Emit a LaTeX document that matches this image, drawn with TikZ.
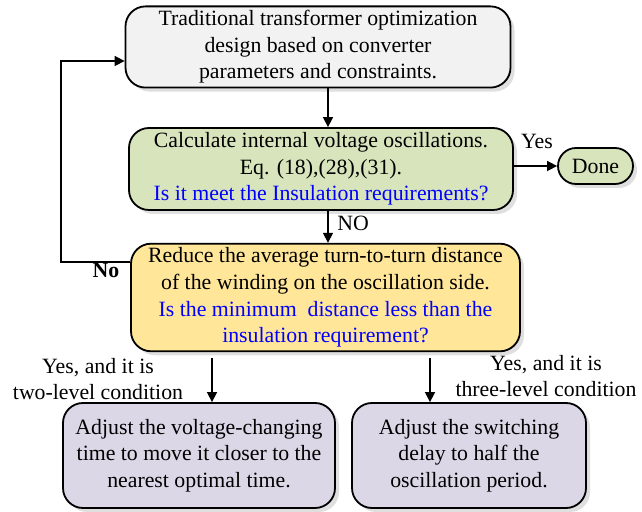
\documentclass[tikz,border=0pt]{standalone}
\usepackage{fontspec}
\setmainfont{Liberation Serif}
\usetikzlibrary{arrows.meta,shadows}

\definecolor{boxgray}{HTML}{F2F2F2}
\definecolor{boxgreen}{HTML}{D8E4BC}
\definecolor{boxyellow}{HTML}{FFE699}
\definecolor{boxpurple}{HTML}{DCD7E6}
\definecolor{qblue}{HTML}{0000FF}

\begin{document}
\begin{tikzpicture}[x=0.5pt,y=-0.5pt,
	font=\fontsize{10.9}{13.3}\selectfont,
	box/.style={draw,line width=0.9pt,rounded corners=10pt,align=center,inner sep=2pt,
		drop shadow={opacity=0.25,shadow xshift=2pt,shadow yshift=-2pt}},
	arr/.style={line width=0.8pt,-{Triangle[length=5pt,width=5pt]}}]
			\useasboundingbox (0,0) rectangle (642,512);
			\node[box,fill=boxgray,minimum width=192.5pt,minimum height=40.5pt] (design) at (318,47)
				{Traditional transformer optimization\\design based on converter\\parameters and constraints.};
			\node[box,fill=boxgreen,minimum width=192pt,minimum height=41pt] (calc) at (321,169)
				{Calculate internal voltage oscillations.\\Eq. (18),(28),(31).\\\textcolor{qblue}{Is it meet the Insulation requirements?}};
			\node[box,fill=boxgreen,rounded corners=9pt,minimum width=37.5pt,minimum height=18pt] (done) at (595.5,166) {Done};
			\node[box,fill=boxyellow,minimum width=194.5pt,minimum height=52.5pt] (reduce) at (325.5,297.5)
				{Reduce the average turn-to-turn distance\\of the winding on the oscillation side.\\\textcolor{qblue}{Is the minimum\ \ distance less than the}\\\textcolor{qblue}{insulation requirement?}};
			\node[box,fill=boxpurple,minimum width=136pt,minimum height=52.5pt] (twolevel) at (199,455.5)
				{Adjust the voltage-changing\\time to move it closer to the\\nearest optimal time.};
			\node[box,fill=boxpurple,minimum width=117pt,minimum height=52.5pt] (threelevel) at (469,455.5)
				{Adjust the switching\\delay to half the\\oscillation period.};
			% arrow columns
			\coordinate (xmid) at (328,0);
			\coordinate (xleft) at (212,0);
			\coordinate (xright) at (430,0);
			\coordinate (fb) at (61,262);
			\draw[arr] (design.south -| xmid) -- (calc.north -| xmid);
			\draw[arr] (calc.south -| xmid) -- (reduce.north -| xmid) node[pos=0.4,right=1pt] (no) {NO};
			\draw[arr] (calc.east |- done) -- (done.west);
			\node (yes) at (537,141) {Yes};
			\draw[arr] (reduce.west |- fb) -- (fb) |- ([yshift=-7pt]design.west);
			\node[font=\fontsize{10.9}{13.3}\selectfont\bfseries] (nolbl) at (106,270) {No};
			\draw[arr] ([yshift=-3pt]reduce.south -| xleft) -- (twolevel.north -| xleft);
			\draw[arr] ([yshift=-3pt]reduce.south -| xright) -- (threelevel.north -| xright);
			\node[align=center] (twolbl) at (98,379) {Yes, and it is\\two-level condition};
			\node[align=center] (threelbl) at (546,376) {Yes, and it is\\three-level condition};
			\end{tikzpicture}
\end{document}
